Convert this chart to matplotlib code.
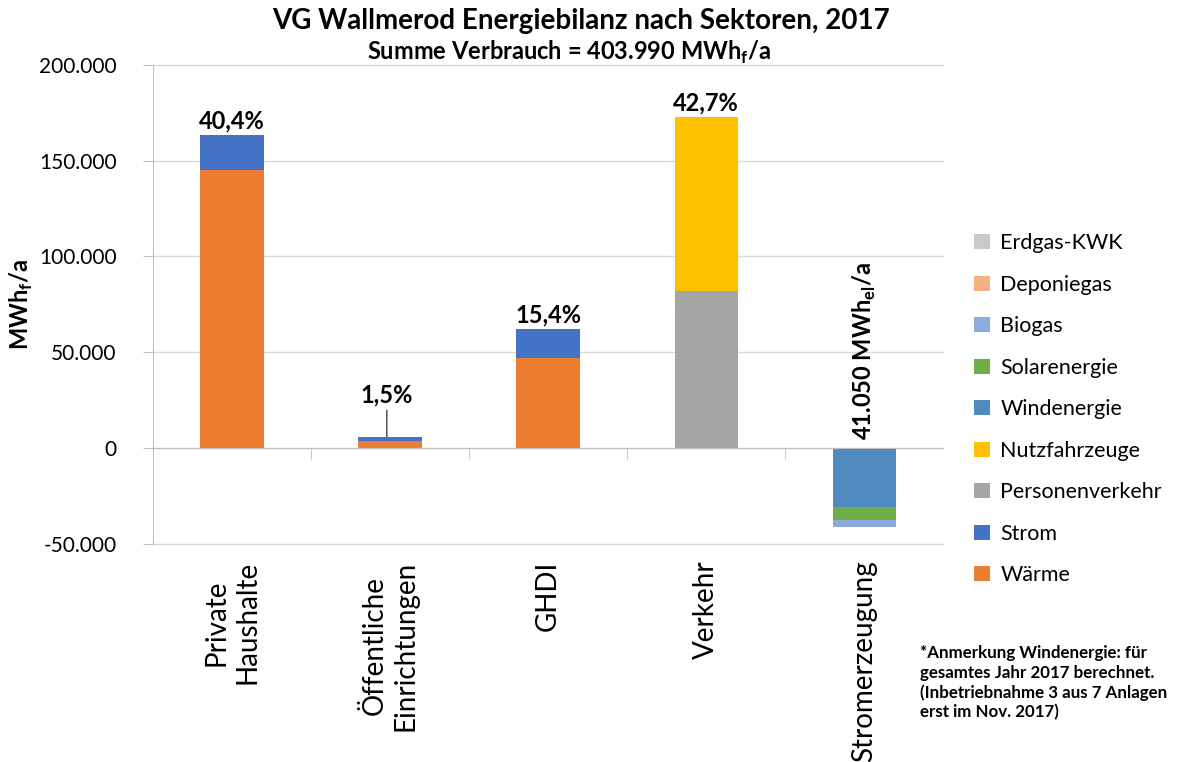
import matplotlib.pyplot as plt
import numpy as np

plt.rcParams['font.family'] = ['Lato', 'DejaVu Sans']
plt.rcParams['mathtext.fontset'] = 'custom'
plt.rcParams['mathtext.rm'] = 'Lato'
plt.rcParams['mathtext.bf'] = 'Lato:bold'

kategorien = ['Private\nHaushalte', 'Öffentliche\nEinrichtungen', 'GHDI', 'Verkehr', 'Stromerzeugung']

# stacking order bottom -> top
serien = ['Wärme', 'Strom', 'Personenverkehr', 'Nutzfahrzeuge', 'Windenergie',
          'Solarenergie', 'Biogas', 'Deponiegas', 'Erdgas-KWK']
farben = ['#ED7D31', '#4472C4', '#A5A5A5', '#FFC000', '#4F8BC0',
          '#70AD47', '#8FAADC', '#F4B183', '#C9C9C9']

waerme = [145000, 3600, 47000, 0, 0]
strom = [18200, 2460, 15200, 0, 0]
personenverkehr = [0, 0, 0, 82000, 0]
nutzfahrzeuge = [0, 0, 0, 90500, 0]
windenergie = [0, 0, 0, 0, -30800]
solarenergie = [0, 0, 0, 0, -6400]
biogas = [0, 0, 0, 0, -3850]
deponiegas = [0, 0, 0, 0, 0]
erdgas_kwk = [0, 0, 0, 0, 0]
werte = [waerme, strom, personenverkehr, nutzfahrzeuge, windenergie,
         solarenergie, biogas, deponiegas, erdgas_kwk]

prozent = ['40,4%', '1,5%', '15,4%', '42,7%']
summe_strom = '41.050'

fig = plt.figure(figsize=(11.85, 7.62), dpi=100)
ax = fig.add_axes([0.129, 0.286, 0.667, 0.629])

x = np.arange(len(kategorien))
pos = np.zeros(len(kategorien))
neg = np.zeros(len(kategorien))
handles = []
for name, vals, c in zip(serien, werte, farben):
    vals = np.array(vals, dtype=float)
    bottom = np.where(vals >= 0, pos, neg)
    b = ax.bar(x, vals, 0.4, bottom=bottom, color=c, label=name)
    handles.append(b)
    pos = pos + np.where(vals >= 0, vals, 0)
    neg = neg + np.where(vals < 0, vals, 0)

ax.set_xlim(-0.5, len(kategorien) - 0.5)
ax.set_ylim(-50000, 200000)
ax.set_yticks(np.arange(-50000, 200001, 50000))
ax.set_yticklabels([f'{v:,.0f}'.replace(',', '.') for v in np.arange(-50000, 200001, 50000)],
                   fontsize=15)
ax.yaxis.grid(True, color='#D9D9D9', lw=1)
for gl in ax.get_ygridlines():
    gl.set_clip_on(False)
ax.set_axisbelow(True)
for s in ['top', 'right']:
    ax.spines[s].set_visible(False)
ax.spines['left'].set_color('#BFBFBF')
ax.spines['bottom'].set_color('#BFBFBF')
ax.spines['bottom'].set_position(('data', 0))
ax.tick_params(axis='y', length=7, color='#BFBFBF', pad=19)
ax.set_xticks(x)
ax.set_xticklabels([])
ax.tick_params(axis='x', which='major', length=0)
ax.set_xticks(np.arange(0.5, len(kategorien) - 0.5, 1), minor=True)
ax.tick_params(axis='x', which='minor', length=8, color='#BFBFBF')

for i, k in enumerate(kategorien):
    ax.text(i, -0.035, k, transform=ax.get_xaxis_transform(), rotation=90,
            ha='center', va='top', multialignment='center', fontsize=20)

for i, p in enumerate(prozent):
    if i == 1:
        ax.annotate(p, xy=(i - 0.02, pos[i]), xytext=(0, 22), textcoords='offset points',
                    ha='center', va='bottom', fontsize=17, fontweight='bold',
                    arrowprops=dict(arrowstyle='-', color='#404040', lw=1,
                                    shrinkA=1, shrinkB=0))
    else:
        ax.annotate(p, xy=(i, pos[i]), xytext=(0, 2), textcoords='offset points',
                    ha='center', va='bottom', fontsize=17, fontweight='bold')

ax.annotate(summe_strom + r' MWh$_{\mathbf{el}}$/a', xy=(4, 0), xytext=(0, 6),
            textcoords='offset points', rotation=90, ha='center', va='bottom',
            fontsize=17, fontweight='bold')

ax.set_ylabel(r'MWh$_{\mathbf{f}}$/a', fontsize=17, fontweight='bold', labelpad=3)

fig.text(0.49, 0.972, 'VG Wallmerod Energiebilanz nach Sektoren, 2017',
         ha='center', va='center', fontsize=20, fontweight='bold')
fig.text(0.48, 0.931, r'Summe Verbrauch = 403.990 MWh$_{\mathbf{f}}$/a',
         ha='center', va='center', fontsize=17, fontweight='bold')

fig.legend(handles[::-1], serien[::-1], loc='center left', bbox_to_anchor=(0.806, 0.463),
           frameon=False, fontsize=15.5, handlelength=0.7, handleheight=0.7,
           handletextpad=0.5, labelspacing=1.0)

fig.text(0.776, 0.104,
         '*Anmerkung Windenergie: für\ngesamtes Jahr 2017 berechnet.\n(Inbetriebnahme 3 aus 7 Anlagen\nerst im Nov. 2017)',
         ha='left', va='center', fontsize=12.2, fontweight='bold', linespacing=1.25)

fig.savefig('out.png', dpi=100)
